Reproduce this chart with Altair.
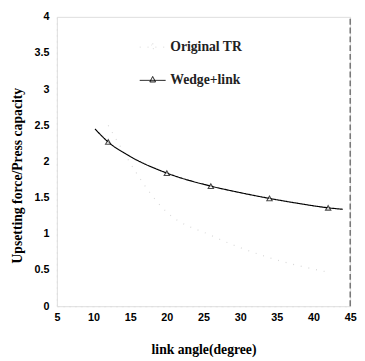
import altair as alt
import pandas as pd

# Data
marker_x = [12, 20, 26, 34, 42]
wedge_y = [2.27, 1.84, 1.66, 1.49, 1.36]
curve_x = [10.2, 12, 15, 20, 26, 30, 34, 38, 42, 44]
curve_y = [2.45, 2.27, 2.07, 1.84, 1.66, 1.57, 1.49, 1.42, 1.36, 1.34]
orig_y = [2.5, 1.3, 0.98, 0.67, 0.47]
series = ["Original TR", "Wedge+link"]
x_ticks = [5, 10, 15, 20, 25, 30, 35, 40, 45]
y_ticks = [0, 0.5, 1, 1.5, 2, 2.5, 3, 3.5, 4]

curve = pd.DataFrame({"x": curve_x, "y": curve_y, "s": "Wedge+link"})
orig = pd.DataFrame({"x": marker_x, "y": orig_y, "s": "Original TR"})
lines = pd.concat([orig, curve])
pts = pd.DataFrame({"x": marker_x, "y": wedge_y, "s": "Wedge+link"})
edge = pd.DataFrame({"x": [45], "y": [0], "y2": [4]})

xs = alt.Scale(domain=[5, 45], nice=False)
ys = alt.Scale(domain=[0, 4], nice=False)
col = alt.Scale(domain=series, range=["#d8d8d8", "black"])

x_axis = alt.Axis(values=x_ticks, title="link angle(degree)",
                  titleFont="Liberation Serif", titleFontSize=14, titleFontWeight="bold",
                  titleColor="black", titlePadding=20, labelFont="Liberation Sans",
                  labelFontSize=11, labelColor="black",
                  labelFontWeight="bold", labelPadding=6, tickSize=0, domainColor="#dddddd",
                  domainDash=[2, 4], grid=False, labelOverlap=False, labelFlush=False,
                  format="~g")
y_axis = alt.Axis(values=y_ticks, title="Upsetting force/Press capacity",
                  titleFont="Liberation Serif", titleFontSize=14, titleFontWeight="bold",
                  titleColor="black", titleX=-40, titleY=162, titleBaseline="middle",
                  labelFont="Liberation Sans", labelFontSize=11, labelColor="black",
                  labelFontWeight="bold", labelPadding=8, tickSize=0, domainColor="#dddddd",
                  domainDash=[2, 4], grid=False, labelOverlap=False, labelFlush=False,
                  format="~g")
X = alt.X("x:Q", scale=xs, axis=x_axis)
Y = alt.Y("y:Q", scale=ys, axis=y_axis)

legend = alt.Legend(title=None, orient="none", legendX=84, legendY=17,
                    symbolType="M-1,0H1M0,-0.3L0.22,0.12L-0.22,0.12Z",
                    symbolSize=700, symbolFillColor="white", symbolStrokeWidth=1,
                    labelFont="Liberation Serif", labelFontSize=14, labelFontWeight="bold",
                    labelColor="#222", rowPadding=13, labelOffset=4)

line = alt.Chart(lines).mark_line(strokeWidth=1.2, interpolate="monotone").encode(
    x=X, y=Y, stroke=alt.Stroke("s:N", scale=col, legend=legend),
    strokeDash=alt.StrokeDash("s:N", scale=alt.Scale(domain=series, range=[[1, 7], [1, 0]]),
                              legend=None))
points = alt.Chart(pts).mark_point(shape="triangle-up", size=30, filled=True,
                                   fill="white", stroke="black", strokeWidth=1.1).encode(
    x=X, y=Y)
border = alt.Chart(edge).mark_rule(
    color="#555", strokeDash=[6, 3], strokeWidth=1.2).encode(x=X, y=Y, y2="y2:Q")

chart = alt.layer(line, points, border).properties(
    width=300, height=296,
    autosize=alt.AutoSizeParams(type="none"),
    padding={"left": 50, "top": 5, "right": 7, "bottom": 52},
).configure_view(stroke=None).configure(background="white")

chart.save("out.html", embed_options={"renderer": "svg", "actions": False})
